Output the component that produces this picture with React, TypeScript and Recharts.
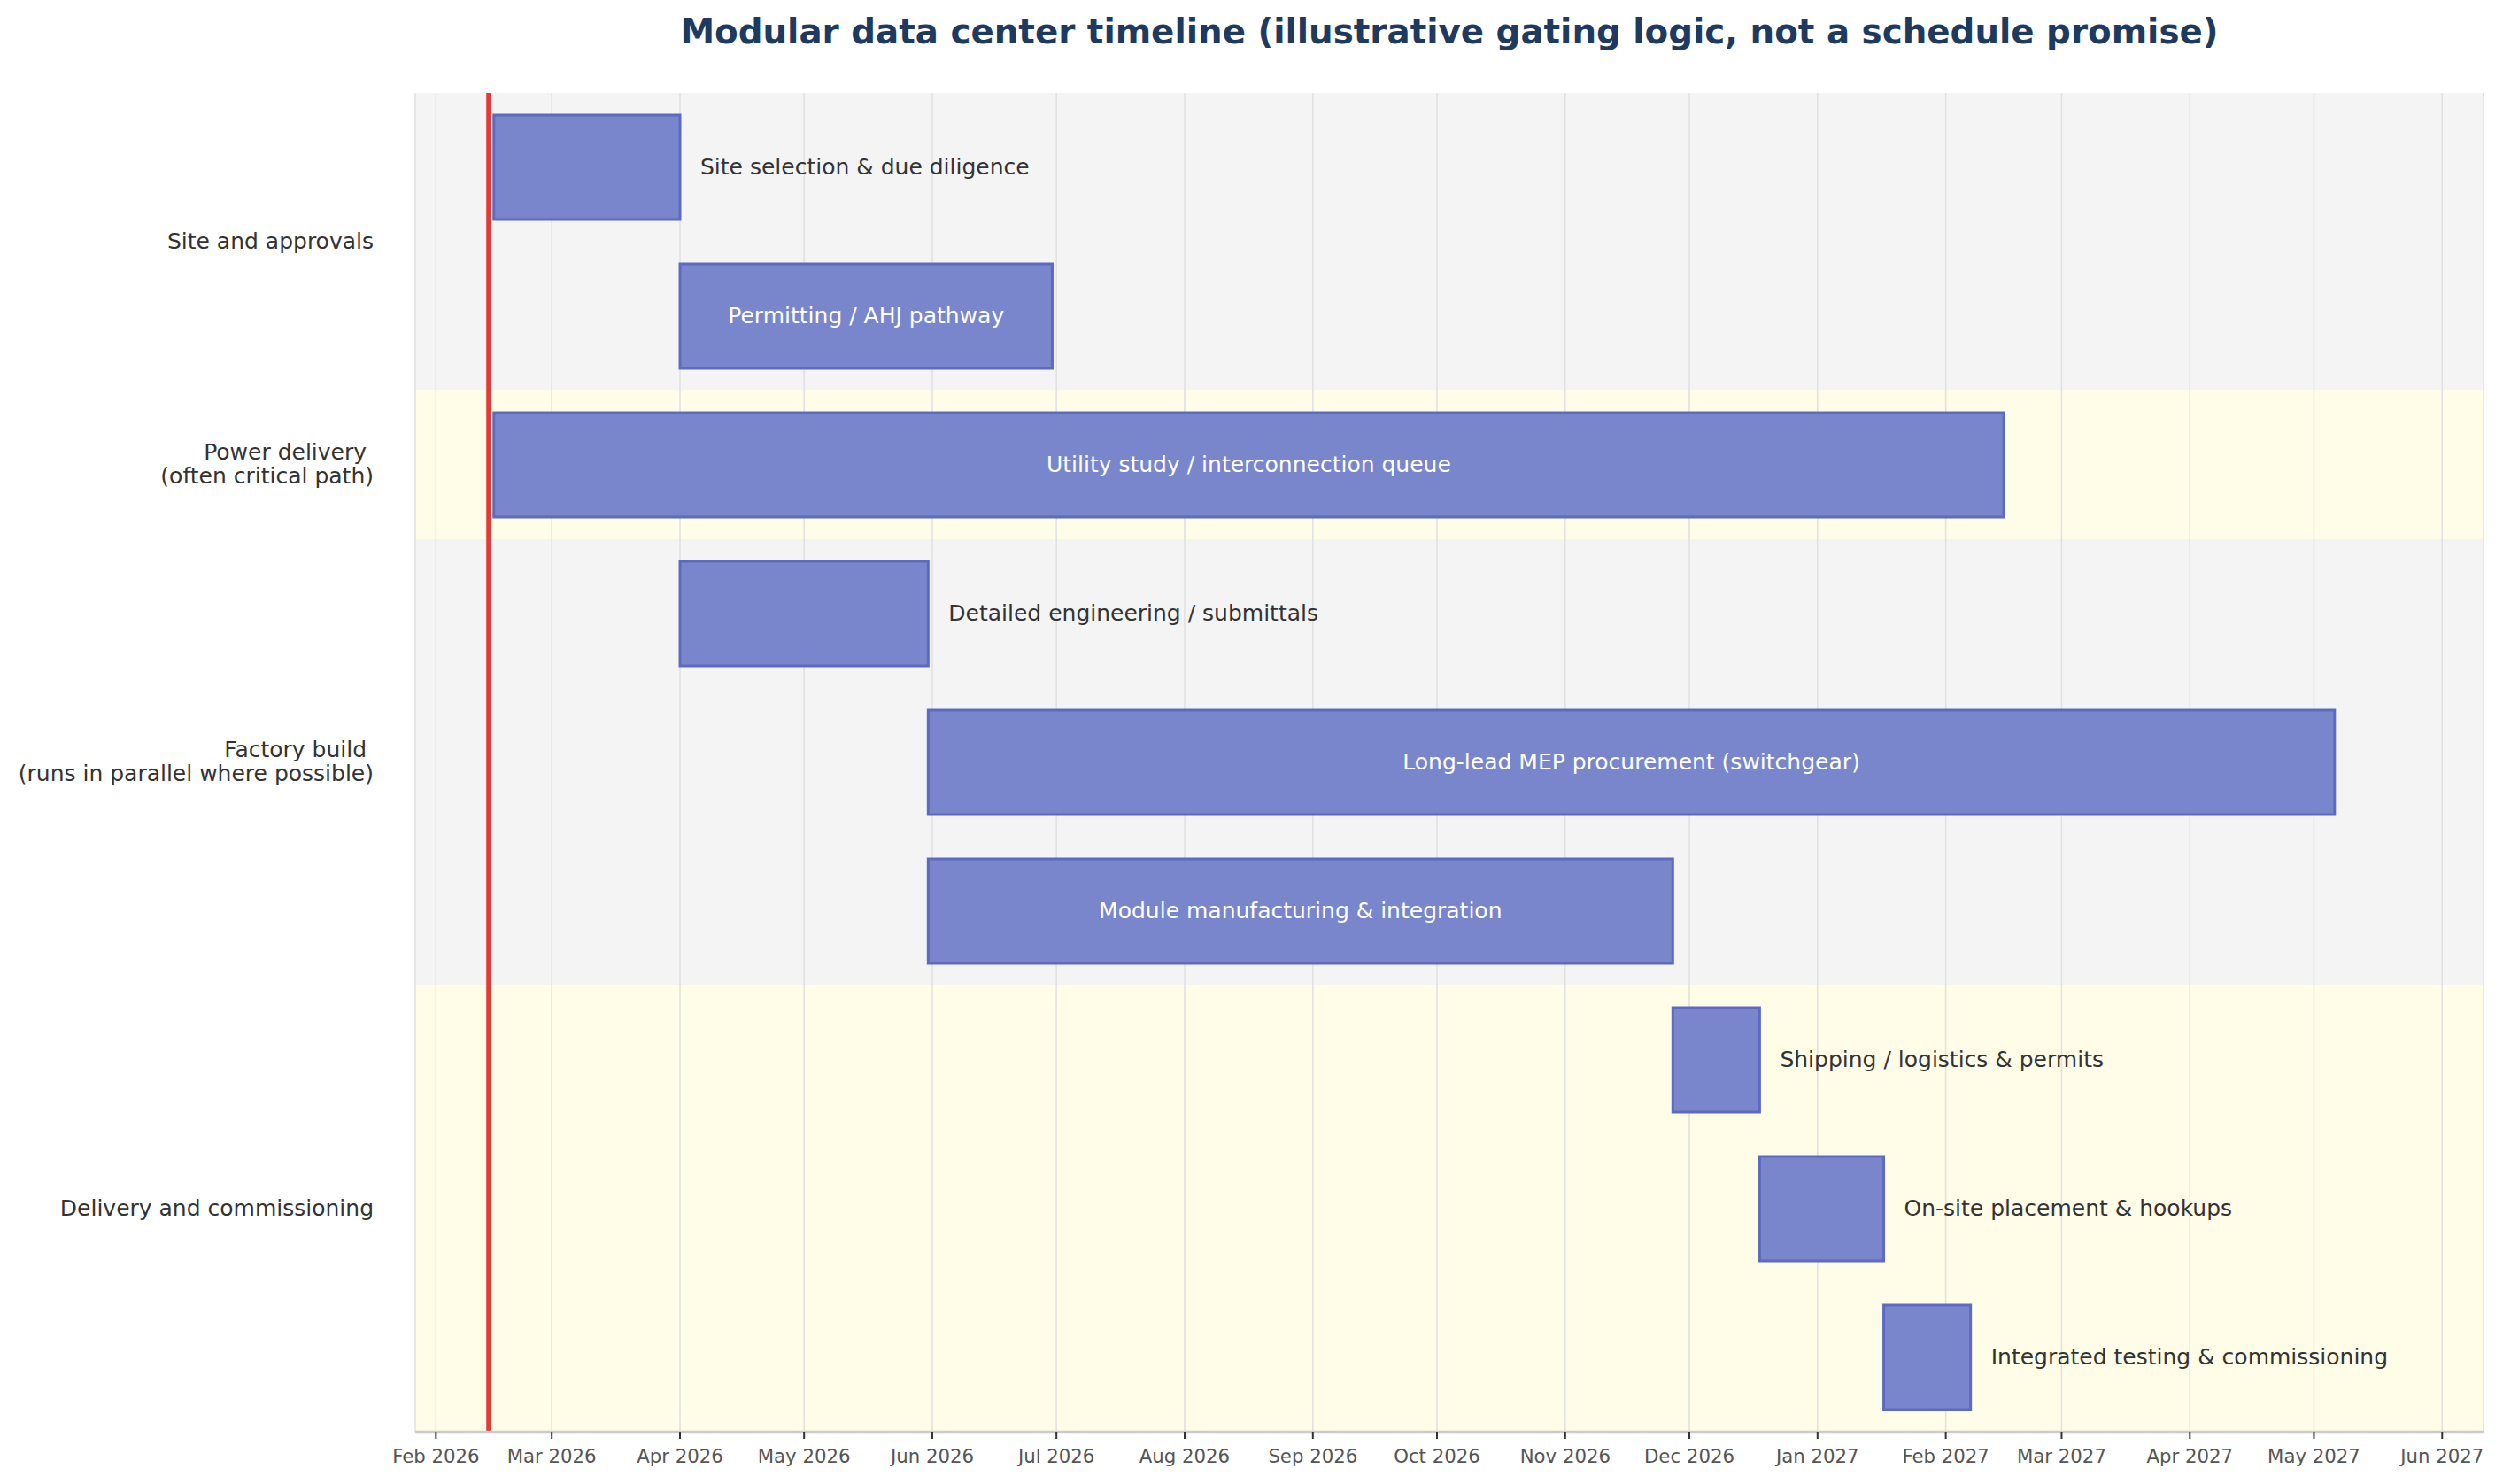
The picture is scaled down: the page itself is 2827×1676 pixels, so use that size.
import React from 'react';
import {
  BarChart,
  Bar,
  XAxis,
  YAxis,
  CartesianGrid,
  ReferenceArea,
  ReferenceLine,
  LabelList,
} from 'recharts';

// ---------------- data ----------------
const tasks = [
  'Site selection & due diligence',
  'Permitting / AHJ pathway',
  'Utility study / interconnection queue',
  'Detailed engineering / submittals',
  'Long-lead MEP procurement (switchgear)',
  'Module manufacturing & integration',
  'Shipping / logistics & permits',
  'On-site placement & hookups',
  'Integrated testing & commissioning',
];

const startDates = [
  '2026-02-15',
  '2026-04-01',
  '2026-02-15',
  '2026-04-01',
  '2026-05-31',
  '2026-05-31',
  '2026-11-27',
  '2026-12-18',
  '2027-01-17',
];

const endDates = [
  '2026-04-01',
  '2026-06-30',
  '2027-02-15',
  '2026-05-31',
  '2027-05-06',
  '2026-11-27',
  '2026-12-18',
  '2027-01-17',
  '2027-02-07',
];

const groupNames = [
  'Site and approvals',
  'Power delivery \n(often critical path)',
  'Factory build \n(runs in parallel where possible)',
  'Delivery and commissioning',
];
const groupFirstTask = [0, 2, 3, 6];
const groupLastTask = [1, 2, 5, 8];

const tickMonths = [
  '2026-02-01', '2026-03-01', '2026-04-01', '2026-05-01', '2026-06-01', '2026-07-01',
  '2026-08-01', '2026-09-01', '2026-10-01', '2026-11-01', '2026-12-01', '2027-01-01',
  '2027-02-01', '2027-03-01', '2027-04-01', '2027-05-01', '2027-06-01',
];
const monthNames = ['Jan', 'Feb', 'Mar', 'Apr', 'May', 'Jun', 'Jul', 'Aug', 'Sep', 'Oct', 'Nov', 'Dec'];

const todayDate = '2026-02-13T17:00:00';
const domainStart = '2026-01-27';
const domainEnd = '2027-06-11';

const titleText = 'Modular data center timeline (illustrative gating logic, not a schedule promise)';

// ---------------- helpers ----------------
const toTs = (s: string) => Date.parse(s.length === 10 ? s + 'T00:00:00Z' : s + 'Z');

const data = tasks.map((t, i) => ({
  task: t,
  range: [toTs(startDates[i]), toTs(endDates[i])],
}));

const ticks = tickMonths.map(toTs);
const fmtTick = (v: number) => {
  const d = new Date(v);
  return `${monthNames[d.getUTCMonth()]} ${d.getUTCFullYear()}`;
};

const FONT = '"DejaVu Sans", Verdana, sans-serif';
const LABEL_SIZE = 25;

let measureCtx: CanvasRenderingContext2D | null = null;
function textWidth(s: string, size: number) {
  if (!measureCtx) {
    const c = document.createElement('canvas');
    measureCtx = c.getContext('2d');
  }
  if (!measureCtx) return s.length * size * 0.6;
  measureCtx.font = `${size}px "DejaVu Sans"`;
  return measureCtx.measureText(s).width;
}

function renderBarLabel(props: any) {
  const vb = props.viewBox && props.viewBox.width !== undefined ? props.viewBox : props;
  const x = Number(vb.x);
  const y = Number(vb.y);
  const w = Number(vb.width);
  const h = Number(vb.height);
  const value = String(props.value);
  const tw = textWidth(value, LABEL_SIZE);
  const cy = y + h / 2;
  if (tw + 30 < w) {
    return (
      <text x={x + w / 2} y={cy} dy="0.3em" textAnchor="middle" fill="#ffffff" fontSize={LABEL_SIZE} fontFamily={FONT}>
        {value}
      </text>
    );
  }
  return (
    <text x={x + w + 23} y={cy} dy="0.3em" textAnchor="start" fill="#333333" fontSize={LABEL_SIZE} fontFamily={FONT}>
      {value}
    </text>
  );
}

function makeGroupLabel(text: string) {
  return (p: any) => {
    const vb = p && p.viewBox && p.viewBox.height !== undefined ? p.viewBox : p;
    const lines = text.split('\n');
    const cy = Number(vb.y) + Number(vb.height) / 2;
    const x = Number(vb.x) - 47;
    const lh = 26.5;
    return (
      <text textAnchor="end" fontSize={LABEL_SIZE} fontFamily={FONT} fill="#333333" style={{ whiteSpace: 'pre' }}>
        {lines.map((ln, i) => (
          <tspan key={i} x={x} y={cy + (i - (lines.length - 1) / 2) * lh} dy="0.3em">
            {ln}
          </tspan>
        ))}
      </text>
    );
  };
}

const bandColors = ['#f4f4f4', '#fffde7'];

export default function App() {
  return (
    <div style={{ position: 'relative', width: 2827, height: 1676, background: '#ffffff' }}>
      <style>{'body{margin:0;}'}</style>
      <div
        style={{
          position: 'absolute',
          left: 469,
          top: 17,
          width: 2336,
          textAlign: 'center',
          fontFamily: FONT,
          fontWeight: 'bold',
          fontSize: 38.8,
          lineHeight: 1,
          color: '#1f3a5f',
          whiteSpace: 'nowrap',
        }}
      >
        {titleText}
      </div>
      <BarChart
        width={2827}
        height={1676}
        layout="vertical"
        data={data}
        margin={{ top: 105, right: 22, bottom: 0, left: 469 }}
        barSize={118}
      >
        {groupNames.map((g, gi) => (
          <ReferenceArea
            key={g}
            y1={tasks[groupFirstTask[gi]]}
            y2={tasks[groupLastTask[gi]]}
            x1={toTs(domainStart)}
            x2={toTs(domainEnd)}
            fill={bandColors[gi % 2]}
            fillOpacity={1}
            stroke="none"
            ifOverflow="extendDomain"
            zIndex={-200}
            label={makeGroupLabel(g)}
          />
        ))}
        <CartesianGrid horizontal={false} stroke="#e0e0e0" strokeWidth={1.5} />
        <XAxis
          type="number"
          dataKey="range"
          domain={[toTs(domainStart), toTs(domainEnd)]}
          allowDataOverflow
          ticks={ticks}
          interval={0}
          tickFormatter={fmtTick}
          height={59}
          tickSize={8}
          tickMargin={12}
          tick={{ fill: '#555555', fontSize: 21.25, fontFamily: FONT }}
          tickLine={{ stroke: '#333333', strokeWidth: 2 }}
          axisLine={{ stroke: '#cccccc', strokeWidth: 2.5 }}
        />
        <YAxis type="category" dataKey="task" hide />
        <Bar dataKey="range" fill="#7986cb" stroke="#5c6bc0" strokeWidth={3} isAnimationActive={false}>
          <LabelList dataKey="task" content={renderBarLabel} />
        </Bar>
        <ReferenceLine x={toTs(todayDate)} stroke="#e53935" strokeWidth={5} ifOverflow="extendDomain" />
      </BarChart>
    </div>
  );
}
